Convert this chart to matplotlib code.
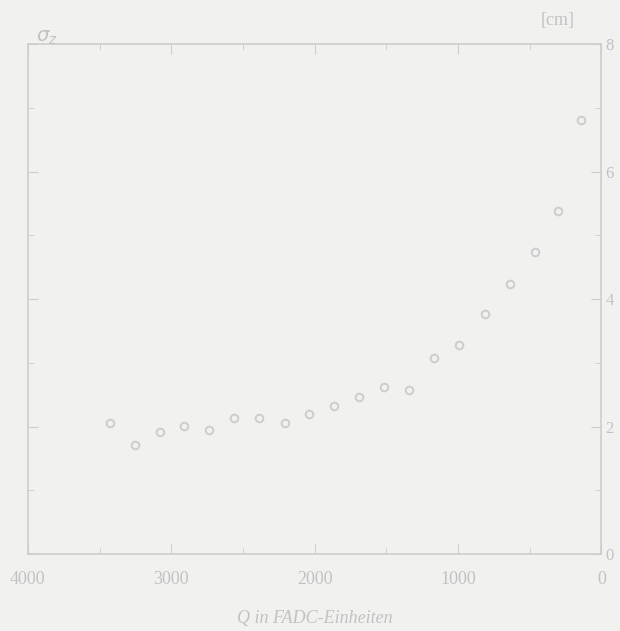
import numpy as np
import matplotlib.pyplot as plt
from matplotlib.ticker import MultipleLocator

# charge bins (FADC units) and measured width
q_fadc = [3430, 3250, 3080, 2910, 2735, 2560, 2385, 2205, 2040, 1865,
          1690, 1515, 1345, 1170, 995, 815, 640, 465, 300, 140]
sigma_cm = [2.05, 1.71, 1.91, 2.01, 1.95, 2.13, 2.13, 2.05, 2.20, 2.32,
            2.46, 2.62, 2.57, 3.07, 3.28, 3.76, 4.24, 4.74, 5.38, 6.81]

x_ticks = [4000, 3000, 2000, 1000, 0]
y_ticks = [0, 2, 4, 6, 8]

bg = '#f1f1f0'
ink = '#cdcdcd'
txt = '#c2c2c2'

plt.rcParams['font.family'] = ['Liberation Serif', 'DejaVu Serif']

fig = plt.figure(figsize=(6.2, 6.31), dpi=100, facecolor=bg)
ax = fig.add_axes([0.045, 0.122, 0.925, 0.808], facecolor=bg)

ax.plot(q_fadc, sigma_cm, linestyle='none', marker='o', markersize=5.5,
        markerfacecolor='none', markeredgecolor=ink, markeredgewidth=1.4)

ax.set_xlim(4000, 0)
ax.set_ylim(0, 8)
ax.set_xticks(x_ticks)
ax.set_yticks(y_ticks)
ax.xaxis.set_minor_locator(MultipleLocator(500))
ax.yaxis.set_minor_locator(MultipleLocator(1))

ax.yaxis.tick_right()
ax.tick_params(which='both', direction='in', colors=ink, labelcolor=txt,
               top=True, bottom=True, left=True, right=True, labelsize=12)
ax.tick_params(which='major', length=7)
ax.tick_params(which='minor', length=4)
ax.tick_params(axis='x', which='major', pad=12, labelsize=13)
ax.tick_params(axis='y', which='major', pad=3)
for s in ax.spines.values():
    s.set_color(ink)
    s.set_linewidth(1.2)

ax.set_xlabel('Q in FADC-Einheiten', color=txt, fontsize=13, style='italic', labelpad=16)
fig.text(0.9, 0.968, '[cm]', color=txt, fontsize=13, ha='center', va='center')
fig.text(0.075, 0.94, r'$\sigma_z$', color=txt, fontsize=14, ha='center', va='center')

fig.savefig('out.png', dpi=100, facecolor=bg)
